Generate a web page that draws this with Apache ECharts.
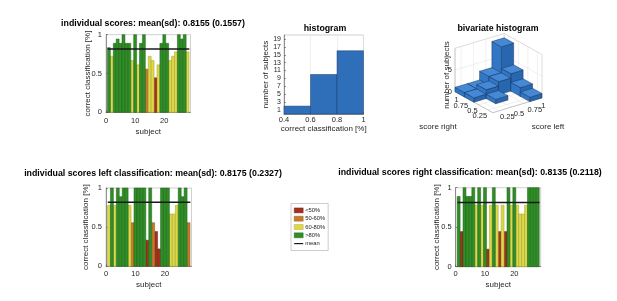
<!DOCTYPE html>
<html><head><meta charset="utf-8">
<script src="https://cdn.jsdelivr.net/npm/echarts@6/dist/echarts.min.js"></script>
<style>html,body{margin:0;padding:0;background:#fff}#c{width:617px;height:301px}</style>
</head><body><div id="c"></div>
<script>
// ---------------- data ----------------
const subjectIds = [1,2,3,4,5,6,7,8,9,10,11,12,13,14,15,16,17,18,19,20,21,22,23,24,25,26,27,28];
const overallScores = [0.833,0.722,0.889,0.944,0.889,1,0.889,0.889,0.667,1,0.611,0.889,1,0.556,0.722,0.667,0.444,0.611,0.889,1,0.889,0.667,0.722,0.778,1,0.944,1,0.778];
const leftScores = [0.778,1,0.778,1,0.889,1,1,0.778,0.556,1,1,1,1,0.333,1,0.556,0.444,0.222,1,1,1,0.667,0.667,0.778,1,0.889,1,0.556];
const rightScores = [0.889,0.444,1,0.889,0.889,1,0.778,1,0.778,1,0.222,0.778,1,0.778,0.444,0.778,0.444,1,0.778,1,0.778,0.667,0.667,0.778,1,1,1,1];
const meanOverall = 0.8155, sdOverall = 0.1557;
const meanLeft = 0.8175, sdLeft = 0.2327;
const meanRight = 0.8135, sdRight = 0.2118;
const meanLineX = [0.6, 28.6];

const histEdges = [0.4, 0.6, 0.8, 1.0];
const histCounts = [2, 10, 16];
const histYTicks = [1,3,5,7,9,11,13,15,17,19];

const bivarBinLabels = ['0.25','0.5','0.75','1'];
// rows: score left bin, columns: score right bin
const bivarCounts = [
  [0,0,1,1],
  [0,1,2,1],
  [0,0,3,3],
  [1,2,4,9]
];
const bivarZTicks = [0, 5];
const bivarZMax = 10;

const classNames = ['<50%','50-60%','60-80%','>80%'];
const classFill = ['#a3311c','#c87a2a','#ddd84a','#2f8f26'];
const classEdge = ['#6b1e10','#8a5219','#a39e2c','#1d5f17'];
function classOf(v){ return v < 0.5 ? 0 : v < 0.6 ? 1 : v <= 0.8 ? 2 : 3; }

// ---------------- style ----------------
const FONT = "'Liberation Sans', Arial, Helvetica, sans-serif";
const TICK = '#262626';

const chart = echarts.init(document.getElementById('c'), null, {renderer:'canvas'});

const grids = [
  {left:106, top:34.7, width:84.5, height:77.6},
  {left:284, top:35, width:79.5, height:79},
  {left:106, top:188, width:85.5, height:78.3},
  {left:455.7, top:187.7, width:85, height:79},
  {left:452.8, top:32.7, width:90, height:80}
];
grids.forEach((g,i)=>{ if(i<4){ g.show=true; g.borderColor='#b0b0b0'; g.borderWidth=0.6; g.backgroundColor='#fff'; } });

function barX(gi, nameGap, labelMargin){
  return {gridIndex:gi, type:'value', min:0, max:29, interval:10,
    axisLine:{onZero:false, lineStyle:{color:'#555', width:0.6}},
    axisTick:{inside:true, length:2, lineStyle:{color:'#555', width:0.6}},
    axisLabel:{fontSize:7.5, color:TICK, margin:labelMargin, showMaxLabel:false, fontFamily:FONT},
    splitLine:{show:false}, nameMoveOverlap:false,
    name:'subject', nameLocation:'middle', nameGap:nameGap, nameTextStyle:{fontSize:8, color:TICK, fontFamily:FONT}};
}
function barY(gi, nameGap){
  return {gridIndex:gi, type:'value', min:0, max:1, interval:0.5,
    axisLine:{show:true, lineStyle:{color:'#555', width:0.6}},
    axisTick:{show:true, inside:true, length:2, lineStyle:{color:'#555', width:0.6}},
    axisLabel:{fontSize:7.5, color:TICK, margin:4, fontFamily:FONT, formatter:v=>String(v)},
    splitLine:{show:false}, nameMoveOverlap:false,
    name:'correct classification [%]', nameLocation:'middle', nameRotate:90, nameGap:nameGap,
    nameTextStyle:{fontSize:8, color:TICK, fontFamily:FONT}};
}

const xAxes = [
  barX(0, 15, 5),
  {gridIndex:1, type:'value', min:0.4, max:1, interval:0.2,
    axisLine:{onZero:false, lineStyle:{color:'#555', width:0.6}},
    axisTick:{inside:true, length:2, lineStyle:{color:'#555', width:0.6}},
    axisLabel:{fontSize:7.5, color:TICK, margin:1.5, fontFamily:FONT, formatter:v=>String(Math.round(v*10)/10)},
    splitLine:{show:true, lineStyle:{color:'#e6e6e6', width:0.6}},
    name:'correct classification [%]', nameLocation:'middle', nameGap:11, nameTextStyle:{fontSize:8, color:TICK, fontFamily:FONT}},
  barX(2, 14, 3.5),
  barX(3, 14, 3.5),
  {gridIndex:4, type:'value', min:-40, max:50, show:false}
];
const yAxes = [
  barY(0, 14),
  {gridIndex:1, type:'value', min:0, max:20,
    axisLine:{show:true, lineStyle:{color:'#555', width:0.6}},
    axisTick:{show:true, inside:true, length:2, customValues:histYTicks, lineStyle:{color:'#555', width:0.6}},
    axisLabel:{fontSize:7, color:TICK, margin:3, fontFamily:FONT, customValues:histYTicks, lineHeight:7},
    splitLine:{show:false},
    name:'number of subjects', nameLocation:'middle', nameRotate:90, nameGap:14,
    nameTextStyle:{fontSize:8, color:TICK, fontFamily:FONT}},
  barY(2, 16),
  barY(3, 15),
  {gridIndex:4, type:'value', min:0, max:80, show:false}
];

const series = [];
function addBars(gi, scores, meanVal){
  for(let c=0;c<4;c++){
    series.push({type:'custom', name:classNames[c], xAxisIndex:gi, yAxisIndex:gi, clip:false,
      itemStyle:{color:classFill[c]},
      data: subjectIds.map((s,i)=>[s, scores[i]]).filter(d=>classOf(d[1])===c),
      renderItem:(params, api)=>{
        const x=api.value(0), y=api.value(1);
        const p0=api.coord([x-0.5, y]), p1=api.coord([x+0.5, 0]);
        return {type:'rect', shape:{x:p0[0], y:p0[1], width:p1[0]-p0[0], height:p1[1]-p0[1]},
          style:{fill:classFill[c], stroke:classEdge[c], lineWidth:0.5}};
      }});
  }
  series.push({type:'line', name:'mean', xAxisIndex:gi, yAxisIndex:gi, symbol:'none', z:5,
    data: meanLineX.map(x=>[x, meanVal]),
    lineStyle:{color:'#1a1a1a', width:1.5}, itemStyle:{color:'#1a1a1a'}});
}
addBars(0, overallScores, meanOverall);
addBars(2, leftScores, meanLeft);
addBars(3, rightScores, meanRight);

// histogram
series.push({type:'custom', name:'hist', xAxisIndex:1, yAxisIndex:1, clip:false,
  data: histCounts.map((c,i)=>[histEdges[i], histEdges[i+1], c]),
  renderItem:(params, api)=>{
    const p0=api.coord([api.value(0), api.value(2)]), p1=api.coord([api.value(1), 0]);
    return {type:'rect', shape:{x:p0[0], y:p0[1], width:p1[0]-p0[0], height:p1[1]-p0[1]},
      style:{fill:'#2f6fba', stroke:'#1c3c63', lineWidth:0.5}};
  }});

// bivariate histogram (oblique projection onto a hidden cartesian grid)
const PU = [12.3, 3.7], PV = [-9.45, 5.25], PZ = 4.34;
function P(api,u,v,z){ return api.coord([PU[0]*u + PV[0]*v, PU[1]*u + PV[1]*v + PZ*z]); }
function line(a,b,color,w){ return {type:'line', shape:{x1:a[0],y1:a[1],x2:b[0],y2:b[1]}, style:{stroke:color, lineWidth:w}}; }
const binCenters = [0.5,1.5,2.5,3.5];
series.push({type:'custom', name:'bivar-axes', xAxisIndex:4, yAxisIndex:4, clip:false, silent:true,
  data:[[0,0]],
  renderItem:(params, api)=>{
    const ch=[]; const G='#e0e0e0', B='#c4c4c4';
    binCenters.forEach(t=>{
      ch.push(line(P(api,t,4,0),P(api,t,4,bivarZMax),G,0.5));
      ch.push(line(P(api,4,t,0),P(api,4,t,bivarZMax),G,0.5));
      ch.push(line(P(api,t,0,0),P(api,t,4,0),G,0.5));
      ch.push(line(P(api,0,t,0),P(api,4,t,0),G,0.5));
    });
    bivarZTicks.forEach(z=>{
      ch.push(line(P(api,0,4,z),P(api,4,4,z),G,0.5));
      ch.push(line(P(api,4,0,z),P(api,4,4,z),G,0.5));
    });
    ch.push(line(P(api,0,4,bivarZMax),P(api,4,4,bivarZMax),B,0.6));
    ch.push(line(P(api,4,0,bivarZMax),P(api,4,4,bivarZMax),B,0.6));
    ch.push(line(P(api,4,0,0),P(api,4,0,bivarZMax),B,0.6));
    ch.push(line(P(api,4,4,0),P(api,4,4,bivarZMax),B,0.6));
    ch.push(line(P(api,0,4,0),P(api,0,4,bivarZMax),'#999',0.6));
    ch.push(line(P(api,0,4,0),P(api,0,0,0),'#999',0.6));
    ch.push(line(P(api,0,0,0),P(api,4,0,0),'#999',0.6));
    bivarZTicks.forEach(z=>{
      const p=P(api,0,4,z);
      ch.push({type:'text', x:p[0]-3, y:p[1], style:{text:String(z), fontSize:7.5, fill:TICK, fontFamily:FONT, align:'right', verticalAlign:'middle'}});
    });
    binCenters.forEach((t,i)=>{
      const pr=P(api,0,t,0);
      ch.push({type:'text', x:pr[0]-1, y:pr[1]+6, style:{text:bivarBinLabels[i], fontSize:7.5, fill:TICK, fontFamily:FONT, align:'right', verticalAlign:'middle'}});
      const pl=P(api,t,0,0);
      ch.push({type:'text', x:pl[0]+1+1.5*i, y:pl[1]+6.5, style:{text:bivarBinLabels[i], fontSize:7.5, fill:TICK, fontFamily:FONT, align:'left', verticalAlign:'middle'}});
    });
    return {type:'group', children:ch};
  }});
const bivarCells = [];
bivarCounts.forEach((row,u)=>row.forEach((c,v)=>{ if(c>0) bivarCells.push([u,v,c]); }));
bivarCells.sort((a,b)=>(b[0]+b[1])-(a[0]+a[1]));
series.push({type:'custom', name:'bivar', xAxisIndex:4, yAxisIndex:4, clip:false, silent:true,
  data:bivarCells,
  renderItem:(params, api)=>{
    const u=api.value(0), v=api.value(1), h=api.value(2);
    const poly=(pts,fill)=>({type:'polygon', shape:{points:pts}, style:{fill:fill, stroke:'#17375c', lineWidth:0.5}});
    return {type:'group', children:[
      poly([P(api,u,v,0),P(api,u+1,v,0),P(api,u+1,v,h),P(api,u,v,h)],'#2866b0'),
      poly([P(api,u,v,0),P(api,u,v+1,0),P(api,u,v+1,h),P(api,u,v,h)],'#3277c6'),
      poly([P(api,u,v,h),P(api,u+1,v,h),P(api,u+1,v+1,h),P(api,u,v+1,h)],'#4488d6')
    ]};
  }});

const tStyle = {fontSize:8.8, fontWeight:'bold', color:'#000', fontFamily:FONT};
const legendItem = (n,c)=>({name:n, icon:'rect', itemStyle:{color:classFill[c], borderColor:classEdge[c], borderWidth:0.4}});
const option = {
  animation:false,
  backgroundColor:'#fff',
  textStyle:{fontFamily:FONT},
  title:[
    {text:'individual scores: mean(sd): '+meanOverall.toFixed(4)+' ('+sdOverall.toFixed(4)+')', left:153, top:19, textAlign:'center', padding:0, textStyle:tStyle},
    {text:'histogram', left:325, top:24, textAlign:'center', padding:0, textStyle:tStyle},
    {text:'bivariate histogram', left:498, top:24, textAlign:'center', padding:0, textStyle:tStyle},
    {text:'individual scores left classification: mean(sd): '+meanLeft.toFixed(4)+' ('+sdLeft.toFixed(4)+')', left:153, top:169, textAlign:'center', padding:0, textStyle:tStyle},
    {text:'individual scores right classification: mean(sd): '+meanRight.toFixed(4)+' ('+sdRight.toFixed(4)+')', left:470, top:168, textAlign:'center', padding:0, textStyle:tStyle}
  ],
  legend:{orient:'vertical', left:291, top:203.5, itemWidth:9, itemHeight:5, itemGap:0.5,
    padding:[3,3,3,3], borderColor:'#999', borderWidth:0.5, backgroundColor:'#fff',
    symbolKeepAspect:true,
    textStyle:{fontSize:5.8, color:'#222', lineHeight:7.8, fontFamily:FONT, padding:[0,0,0,-3]},
    selectedMode:false,
    data:[legendItem('<50%',0), legendItem('50-60%',1), legendItem('60-80%',2), legendItem('>80%',3),
      {name:'mean', icon:'path://M0,0H20V2.6H0Z', itemStyle:{color:'#1a1a1a'}}]},
  grid:grids, xAxis:xAxes, yAxis:yAxes, series:series,
  graphic:[
    {type:'text', x:446.7, y:75, rotation:Math.PI/2, style:{text:'number of subjects', fontSize:8, fill:TICK, fontFamily:FONT, align:'center', verticalAlign:'middle'}},
    {type:'text', x:438, y:127, style:{text:'score right', fontSize:8, fill:TICK, fontFamily:FONT, align:'center', verticalAlign:'middle'}},
    {type:'text', x:548, y:127, style:{text:'score left', fontSize:8, fill:TICK, fontFamily:FONT, align:'center', verticalAlign:'middle'}}
  ]
};
chart.setOption(option);
</script></body></html>
